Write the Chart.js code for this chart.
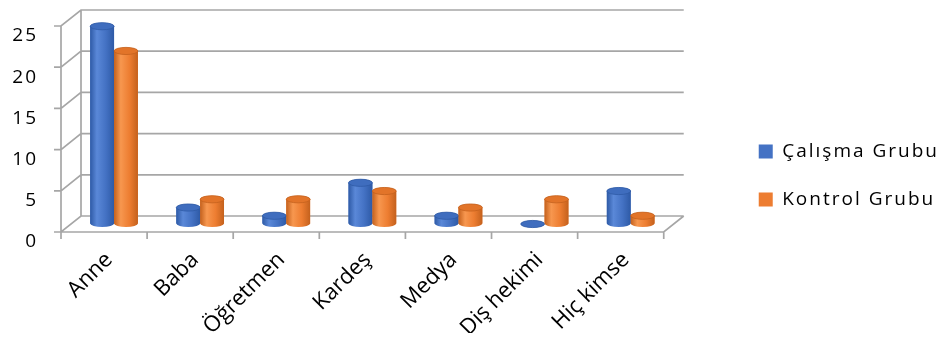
<!DOCTYPE html>
<html>
<head>
<meta charset="utf-8">
<script src="https://cdn.jsdelivr.net/npm/chart.js@4.4.1/dist/chart.umd.min.js"></script>
<style>
  html, body { margin: 0; padding: 0; background: #ffffff; }
  #wrap { width: 949px; height: 347px; position: relative; }
</style>
</head>
<body>
<div id="wrap"><canvas id="c"></canvas></div>
<script>
// Kategoriler ve seriler
const categories = ['Anne', 'Baba', 'Öğretmen', 'Kardeş', 'Medya', 'Diş hekimi', 'Hiç kimse'];
const calismaGrubu = [24, 2, 1, 5, 1, 0, 4];
const kontrolGrubu = [21, 3, 3, 4, 2, 3, 1];
const seriesNames = ['Çalışma Grubu', 'Kontrol Grubu'];
const yTicks = [0, 5, 10, 15, 20, 25];

const seriesColors = ['#4472C4', '#ED7D31'];
const shades = [
  { edge: '#2E5AA6', light: '#5A88D8', base: '#4472C4', cap: '#3F6DBE' },
  { edge: '#C4611D', light: '#F7974F', base: '#ED7D31', cap: '#E27429' }
];

// half of the box depth: front plane = mid + (-DX, +DY), back plane = mid + (+DX, -DY)
const DX = 10, DY = 8;
const FAMILY = "'Open Sans', 'Noto Sans', sans-serif";
const FONT = { family: FAMILY, size: 19 };
const X_FONT = { family: FAMILY, size: 22 };
const LETTER_SPACING = '2px';

// wide tracking for legend and value axis; rotated category labels are drawn untracked
const spacing = {
  id: 'spacing',
  beforeLayout(chart) { chart.ctx.letterSpacing = LETTER_SPACING; },
  beforeDraw(chart) { chart.ctx.letterSpacing = LETTER_SPACING; },
  afterLayout(chart) {
    const xs = chart.scales.x;
    if (xs && !xs._untracked) {
      const draw = xs.drawLabels;
      xs.drawLabels = function (area) {
        const c = this.ctx, prev = c.letterSpacing;
        c.letterSpacing = '0px';
        draw.call(this, area);
        c.letterSpacing = prev;
      };
      xs._untracked = true;
    }
  }
};

// 3D frame: back wall grid, left wall, floor and front axis; cylinders on top
const frame3d = {
  id: 'frame3d',
  beforeDatasetsDraw(chart) {
    const { ctx, chartArea: a, scales: { x, y } } = chart;
    const L = a.left, R = a.right;
    const fy = v => y.getPixelForValue(v) + DY;
    const by = v => y.getPixelForValue(v) - DY;
    ctx.save();
    ctx.strokeStyle = '#A6A6A6';
    ctx.lineWidth = 1.7;
    ctx.lineCap = 'butt';
    ctx.beginPath();
    yTicks.forEach(v => {
      ctx.moveTo(L - DX - 7, fy(v));
      ctx.lineTo(L - DX, fy(v));
      ctx.lineTo(L + DX, by(v));
      ctx.lineTo(R + DX, by(v));
    });
    ctx.moveTo(L - DX, fy(0)); ctx.lineTo(L - DX, fy(25));
    ctx.moveTo(L + DX, by(0)); ctx.lineTo(L + DX, by(25));
    ctx.moveTo(L - DX, fy(0)); ctx.lineTo(R - DX, fy(0)); ctx.lineTo(R + DX, by(0));
    for (let i = 0; i <= categories.length; i++) {
      const px = x.getPixelForValue(i - 0.5) - DX;
      ctx.moveTo(px, fy(0));
      ctx.lineTo(px, fy(0) + 7);
    }
    ctx.stroke();
    ctx.restore();
  },
  afterDatasetsDraw(chart) {
    const ctx = chart.ctx;
    const metas = chart.getSortedVisibleDatasetMetas();
    for (let i = 0; i < categories.length; i++) {
      metas.forEach(meta => {
        const bar = meta.data[i];
        if (!bar) return;
        const p = bar.getProps(['x', 'y', 'base', 'width'], true);
        drawCylinder(ctx, p.x - p.width / 2, p.width, p.y, p.base, shades[meta.index]);
      });
    }
  }
};

function drawCylinder(ctx, left, w, top, bottom, c) {
  const cx = left + w / 2, rx = w / 2, ry = Math.max(2.5, w * 0.15);
  ctx.save();
  const g = ctx.createLinearGradient(left, 0, left + w, 0);
  g.addColorStop(0, c.edge);
  g.addColorStop(0.28, c.light);
  g.addColorStop(0.65, c.base);
  g.addColorStop(1, c.edge);
  ctx.fillStyle = g;
  ctx.beginPath();
  ctx.moveTo(left, top);
  ctx.lineTo(left, bottom);
  ctx.ellipse(cx, bottom, rx, ry, 0, Math.PI, 0, true);
  ctx.lineTo(left + w, top);
  ctx.ellipse(cx, top, rx, ry, 0, 0, Math.PI, true);
  ctx.closePath();
  ctx.fill();
  ctx.beginPath();
  ctx.ellipse(cx, top, rx, ry, 0, 0, Math.PI * 2);
  ctx.fillStyle = c.cap;
  ctx.fill();
  ctx.strokeStyle = c.edge;
  ctx.lineWidth = 0.8;
  ctx.stroke();
  ctx.restore();
}

new Chart(document.getElementById('c'), {
  type: 'bar',
  data: {
    labels: categories,
    datasets: [
      { label: seriesNames[0], data: calismaGrubu, backgroundColor: seriesColors[0], borderWidth: 0 },
      { label: seriesNames[1], data: kontrolGrubu, backgroundColor: seriesColors[1], borderWidth: 0 }
    ]
  },
  options: {
    responsive: true,
    maintainAspectRatio: false,
    animation: false,
    devicePixelRatio: 1,
    layout: { padding: { top: 18, left: 0, right: 0, bottom: 14 } },
    datasets: { bar: { categoryPercentage: 0.554, barPercentage: 1.0 } },
    plugins: {
      tooltip: { enabled: false },
      legend: {
        position: 'right',
        labels: {
          boxWidth: 14, boxHeight: 14, padding: 29,
          color: '#000000', font: FONT
        }
      }
    },
    scales: {
      x: {
        grid: { display: false, drawTicks: false },
        border: { display: false },
        afterFit(s) { s.height = 109; },
        ticks: {
          autoSkip: false, maxRotation: 45, minRotation: 45,
          labelOffset: -5, padding: 23,
          color: '#000000', font: X_FONT
        }
      },
      y: {
        min: 0, max: 25,
        grid: { display: true, drawOnChartArea: false, drawTicks: true, tickLength: 33, color: 'rgba(0,0,0,0)' },
        border: { display: false },
        afterFit(s) { s.width = 71; },
        ticks: {
          stepSize: 5, padding: 0, labelOffset: 18,
          color: '#000000', font: FONT
        }
      },
      gap: {
        type: 'linear', position: 'right', axis: 'y',
        display: false,
        afterFit(s) { s.width = 56; }
      }
    }
  },
  plugins: [spacing, frame3d]
});
</script>
</body>
</html>
